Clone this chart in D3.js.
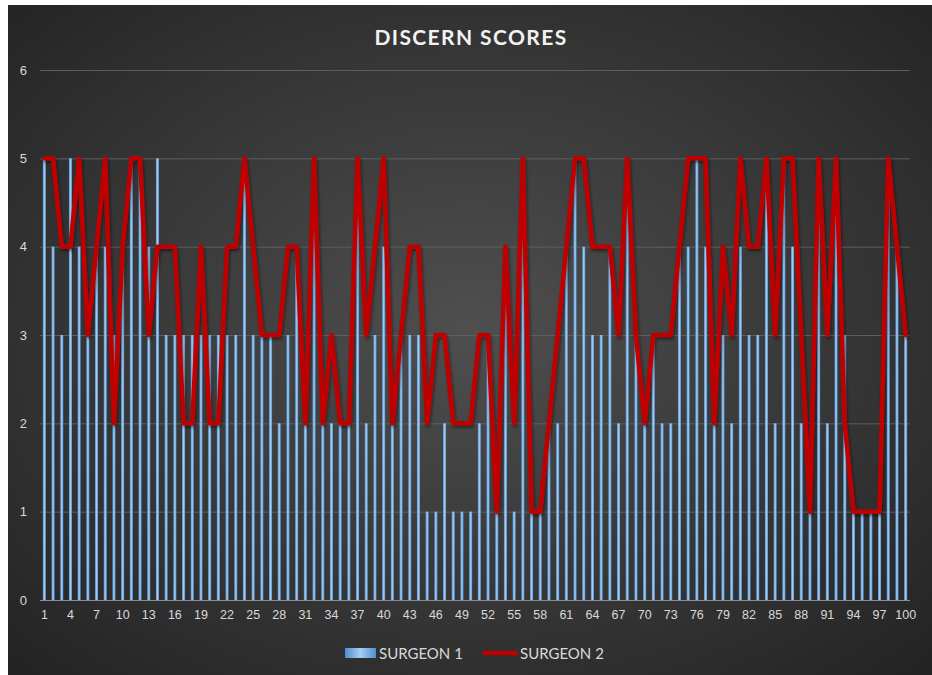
<!DOCTYPE html>
<html>
<head>
<meta charset="utf-8">
<script src="https://cdn.jsdelivr.net/npm/d3@7"></script>
<style>
  html, body { margin: 0; padding: 0; background: #ffffff; }
  svg { display: block; }
</style>
</head>
<body>
<div id="chart"></div>
<script>
// case numbers 1..100 along the x axis
var cases = d3.range(1, 101);

// DISCERN score per video
var surgeon1 = [
  5, 4, 3, 5, 4, 3, 4, 4, 3, 4,
  5, 5, 4, 5, 3, 3, 3, 3, 3, 3,
  3, 3, 3, 5, 3, 3, 3, 2, 3, 4,
  2, 5, 2, 2, 2, 2, 5, 2, 3, 4,
  2, 3, 3, 3, 1, 1, 2, 1, 1, 1,
  2, 3, 1, 4, 1, 5, 1, 1, 2, 2,
  4, 5, 4, 3, 3, 4, 2, 5, 3, 2,
  3, 2, 2, 4, 4, 5, 4, 2, 3, 2,
  4, 3, 3, 5, 2, 5, 4, 2, 1, 5,
  2, 5, 3, 1, 1, 1, 1, 5, 4, 3
];
var surgeon2 = [
  5, 5, 4, 4, 5, 3, 4, 5, 2, 4,
  5, 5, 3, 4, 4, 4, 2, 2, 4, 2,
  2, 4, 4, 5, 4, 3, 3, 3, 4, 4,
  2, 5, 2, 3, 2, 2, 5, 3, 4, 5,
  2, 3, 4, 4, 2, 3, 3, 2, 2, 2,
  3, 3, 1, 4, 2, 5, 1, 1, 2, 3,
  4, 5, 5, 4, 4, 4, 3, 5, 3, 2,
  3, 3, 3, 4, 5, 5, 5, 2, 4, 3,
  5, 4, 4, 5, 3, 5, 5, 3, 1, 5,
  3, 5, 2, 1, 1, 1, 1, 5, 4, 3
];
var yTicks = [0, 1, 2, 3, 4, 5, 6];
var xTicks = cases.filter(function (d) { return (d - 1) % 3 === 0; });
var seriesNames = ["SURGEON 1", "SURGEON 2"];

var width = 932, height = 675;
var margin = { top: 70, right: 22, bottom: 75, left: 40 };
var plotW = width - margin.left - margin.right;
var plotH = height - margin.top - margin.bottom;

var svg = d3.select("#chart").append("svg")
  .attr("width", width)
  .attr("height", height)
  .style("font-family", "Lato, 'Open Sans', sans-serif");

var defs = svg.append("defs");

var bg = defs.append("radialGradient")
  .attr("id", "bgGrad")
  .attr("cx", "50%").attr("cy", "48%").attr("r", "70%");
bg.append("stop").attr("offset", "0%").attr("stop-color", "#4f4f4f");
bg.append("stop").attr("offset", "100%").attr("stop-color", "#242424");

var barGrad = defs.append("linearGradient")
  .attr("id", "barGrad")
  .attr("x1", "0%").attr("x2", "100%").attr("y1", "0%").attr("y2", "0%");
barGrad.append("stop").attr("offset", "0%").attr("stop-color", "#4f8fd0");
barGrad.append("stop").attr("offset", "50%").attr("stop-color", "#a9cdf0");
barGrad.append("stop").attr("offset", "100%").attr("stop-color", "#4f8fd0");

var shadow = defs.append("filter").attr("id", "lineShadow")
  .attr("x", "-5%").attr("y", "-5%").attr("width", "110%").attr("height", "110%");
shadow.append("feDropShadow")
  .attr("dx", 1).attr("dy", 2).attr("stdDeviation", 1.5)
  .attr("flood-color", "#000").attr("flood-opacity", 0.5);

// background (white strip on the left/top like the cropped original)
svg.append("rect")
  .attr("x", 8).attr("y", 5)
  .attr("width", width - 8).attr("height", height - 5)
  .attr("fill", "url(#bgGrad)");

var g = svg.append("g")
  .attr("transform", "translate(" + margin.left + "," + margin.top + ")");

var x = d3.scaleBand()
  .domain(cases)
  .range([0, plotW])
  .paddingInner(0.65)
  .paddingOuter(0.325);

var y = d3.scaleLinear()
  .domain([0, 6])
  .range([plotH, 0]);

// gridlines + y labels
var yAxis = d3.axisLeft(y)
  .tickValues(yTicks)
  .tickSize(-plotW)
  .tickPadding(13)
  .tickFormat(d3.format("d"));

var gy = g.append("g").attr("class", "y axis").call(yAxis);
gy.select(".domain").remove();
gy.selectAll(".tick line")
  .attr("stroke", function (d) { return d === 0 ? "#8c8c8c" : "#5e5e5e"; })
  .attr("stroke-width", 1);
gy.selectAll(".tick text")
  .attr("fill", "#d9d9d9")
  .style("font-size", "13px");

// x labels
var xAxis = d3.axisBottom(x)
  .tickValues(xTicks)
  .tickSize(0)
  .tickPadding(10);

var gx = g.append("g").attr("class", "x axis")
  .attr("transform", "translate(0," + plotH + ")")
  .call(xAxis);
gx.select(".domain").remove();
gx.selectAll(".tick text")
  .attr("fill", "#d9d9d9")
  .style("font-size", "12.5px");

// surgeon 1 bars
g.append("g").attr("class", "bars")
  .selectAll("rect")
  .data(cases)
  .enter().append("rect")
  .attr("x", function (d) { return x(d); })
  .attr("y", function (d, i) { return y(surgeon1[i]); })
  .attr("width", x.bandwidth())
  .attr("height", function (d, i) { return plotH - y(surgeon1[i]); })
  .attr("fill", "url(#barGrad)");

// surgeon 2 line
var line = d3.line()
  .x(function (d) { return x(d) + x.bandwidth() / 2; })
  .y(function (d, i) { return y(surgeon2[i]); });

g.append("path")
  .datum(cases)
  .attr("d", line)
  .attr("fill", "none")
  .attr("stroke", "#c00000")
  .attr("stroke-width", 4.5)
  .attr("stroke-linejoin", "round")
  .attr("stroke-linecap", "round")
  .attr("filter", "url(#lineShadow)");

// title
svg.append("text")
  .attr("x", 471)
  .attr("y", 45)
  .attr("text-anchor", "middle")
  .attr("fill", "#f2f2f2")
  .style("font-size", "21px")
  .style("font-weight", "bold")
  .style("letter-spacing", "1.4px")
  .text("DISCERN SCORES");

// legend
var legend = svg.append("g").attr("class", "legend")
  .attr("transform", "translate(345,653)");

legend.append("rect")
  .attr("x", 0).attr("y", -5)
  .attr("width", 31).attr("height", 10)
  .attr("fill", "url(#barGrad)");
legend.append("text")
  .attr("x", 34).attr("y", 5.5)
  .attr("fill", "#d9d9d9")
  .style("font-size", "15px")
  .text(seriesNames[0]);

legend.append("line")
  .attr("x1", 138).attr("x2", 173)
  .attr("y1", 0).attr("y2", 0)
  .attr("stroke", "#c00000")
  .attr("stroke-width", 4.5);
legend.append("text")
  .attr("x", 175).attr("y", 5.5)
  .attr("fill", "#d9d9d9")
  .style("font-size", "15px")
  .text(seriesNames[1]);
</script>
</body>
</html>
